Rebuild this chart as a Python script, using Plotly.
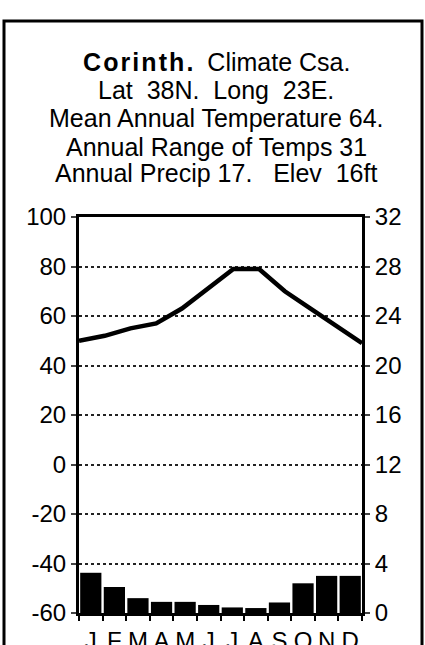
import plotly.graph_objects as go

months = ["J", "F", "M", "A", "M", "J", "J", "A", "S", "O", "N", "D"]
temp_f = [50, 52, 55, 57, 63, 71, 79, 79, 70, 63, 56, 49]
precip_in = [3.25, 2.1, 1.2, 0.9, 0.9, 0.65, 0.45, 0.4, 0.85, 2.4, 3.0, 3.0]
left_ticks = [-60, -40, -20, 0, 20, 40, 60, 80, 100]
right_ticks = [0, 4, 8, 12, 16, 20, 24, 28, 32]
HS = "\u200a"
title_lines = [
    "<b>" + HS.join("Corinth.") + "</b>  Climate Csa.",
    "Lat  38N.  Long  23E.",
    "Mean Annual Temperature 64.",
    "Annual Range of Temps 31",
    "Annual Precip 17.   Elev  16ft",
]

FONT = "Liberation Sans, Arial, sans-serif"
W, H = 425, 645
L, R, T, B = 79, 362, 217, 613

n = len(months)
# temperature line runs edge to edge of the plot (first point on left axis, last on right axis)
line_x = [-0.5 + i * n / (n - 1) for i in range(n)]

fig = go.Figure()
fig.add_trace(go.Bar(x=list(range(n)), y=precip_in, marker=dict(color="black", line=dict(width=0)),
                     yaxis="y2", xaxis="x", showlegend=False))
fig.add_trace(go.Scatter(x=line_x, y=temp_f, mode="lines", line=dict(color="black", width=4.5),
                         xaxis="x", yaxis="y", showlegend=False, cliponaxis=False))


def px_x(p):
    return (p - L) / (R - L)


def px_y(p):
    return (B - p) / (B - T)


ys = [62, 90, 118, 147, 173]
ann = []
for t, yy in zip(title_lines, ys):
    ann.append(dict(text=t, x=px_x(216), y=px_y(yy), xref="paper", yref="paper", showarrow=False,
                    xanchor="center", yanchor="middle", font=dict(size=25, color="black", family=FONT)))

fig.update_layout(
    width=W, height=H, margin=dict(l=L, r=W - R, t=T, b=H - B, autoexpand=False),
    paper_bgcolor="white", plot_bgcolor="white", bargap=0.1,
    font=dict(family=FONT, color="black", size=24),
    xaxis=dict(range=[-0.5, 11.5], tickvals=list(range(n)), ticktext=months, ticks="",
               showline=True, linecolor="black", linewidth=3, mirror=True, showgrid=False, zeroline=False,
               automargin=False, ticklabelstandoff=4,
               minor=dict(ticks="outside", tick0=-0.5, dtick=1, ticklen=5, tickwidth=2, tickcolor="black"),
               tickfont=dict(size=24)),
    yaxis=dict(range=[-60, 100], tickvals=left_ticks, ticktext=[str(v) for v in left_ticks],
               ticks="outside", ticklen=5, tickwidth=2, automargin=False,
               showline=True, linecolor="black", linewidth=3, showgrid=True, gridcolor="#222",
               griddash="dot", gridwidth=1.5, zeroline=False, tickfont=dict(size=24)),
    yaxis2=dict(range=[0, 32], tickvals=right_ticks, ticktext=[str(v) for v in right_ticks],
                overlaying="y", side="right", ticks="outside", automargin=False,
                ticklen=5, tickwidth=2, showline=True, linecolor="black", linewidth=3, showgrid=False,
                zeroline=False, tickfont=dict(size=24)),
    annotations=ann,
    shapes=[dict(type="rect", xref="paper", yref="paper", x0=px_x(4), x1=px_x(422), y0=px_y(660), y1=px_y(21),
                 line=dict(color="black", width=3), layer="below")],
)
fig.write_html("out.html", config={"displayModeBar": False},
               post_script="document.body.style.margin='0';")
